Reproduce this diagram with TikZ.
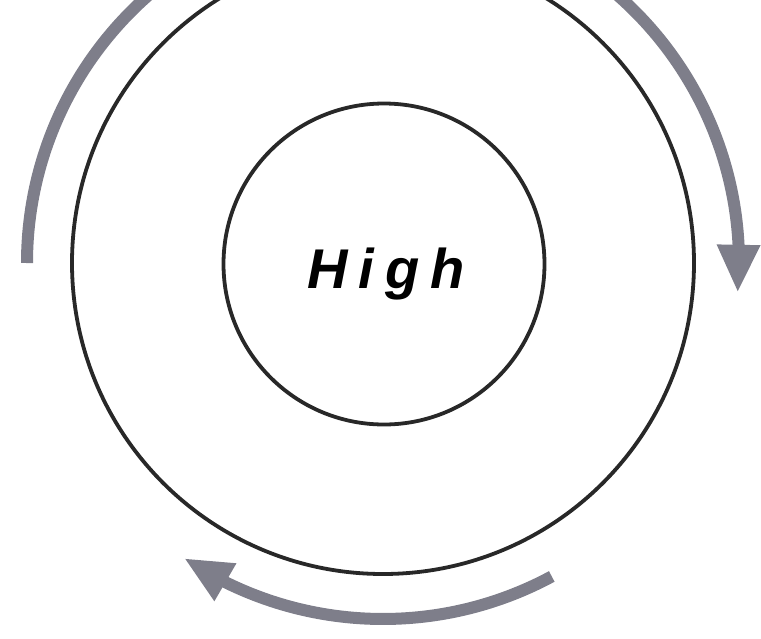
\documentclass[tikz,border=0pt]{standalone}
\usepackage{fontspec}
\setmainfont{Liberation Sans}
\usetikzlibrary{arrows.meta,bending}
\definecolor{arcgray}{RGB}{126,126,138}
\definecolor{ringcol}{RGB}{40,40,40}
\tikzset{
  ring/.style={circle, draw=ringcol, line width=3.8pt, inner sep=0pt},
  flowarc/.style={draw=arcgray, line width=12pt},
  flowarrow/.style={flowarc, -{Triangle[width=40pt,length=48pt,flex]}},
}
\begin{document}
\begin{tikzpicture}[x=1pt,y=1pt]
\useasboundingbox (0,-638) rectangle (761,0);
\clip (0,-638) rectangle (761,0);
\coordinate (C) at (383,-263);
\node[ring, minimum size=622pt] (outer) at (C) {};
\node[ring, minimum size=321pt] (inner) at (384,-264) {};
\node[font=\fontsize{56}{64}\selectfont\bfseries\itshape, anchor=base, inner sep=0pt] (high) at (386,-288)
  {H\kern11pt i\kern11pt g\kern11pt h};
\coordinate (leftstart) at ([shift={(180:356pt)}]C);
\draw[flowarc] (leftstart) arc[start angle=180, end angle=120, radius=356pt];
\coordinate (rightstart) at ([shift={(70:356pt)}]C);
\draw[flowarrow] (rightstart) arc[start angle=70, end angle=-4.8, radius=356pt];
\coordinate (bottomstart) at ([shift={(298.3:356pt)}]C);
\draw[flowarrow] (bottomstart) arc[start angle=298.3, end angle=236, radius=356pt];
\end{tikzpicture}
\end{document}
